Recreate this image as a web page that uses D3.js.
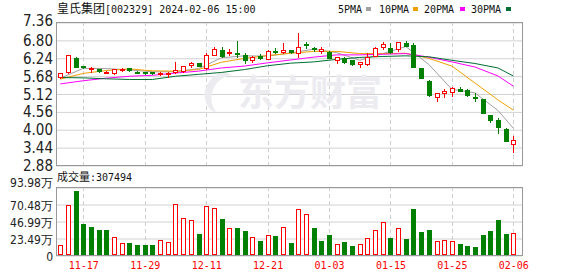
<!DOCTYPE html>
<html>
<head>
<meta charset="utf-8">
<script src="https://cdn.jsdelivr.net/npm/d3@7"></script>
<style>
  body { margin: 0; background: #fff; }
  svg { display: block; }
</style>
</head>
<body>
<div id="chart"></div>
<script>
// trading days shown (2023-11-14 .. 2024-02-06)
const dates = ["11-14","11-15","11-16","11-17","11-20","11-21","11-22","11-23","11-24","11-27",
  "11-28","11-29","11-30","12-01","12-04","12-05","12-06","12-07","12-08","12-11",
  "12-12","12-13","12-14","12-15","12-18","12-19","12-20","12-21","12-22","12-25",
  "12-26","12-27","12-28","12-29","01-02","01-03","01-04","01-05","01-08","01-09",
  "01-10","01-11","01-12","01-15","01-16","01-17","01-18","01-19","01-22","01-23",
  "01-24","01-25","01-26","01-29","01-30","01-31","02-01","02-02","02-05","02-06"];

const opens  = [5.65,5.80,6.24,5.98,5.90,5.89,5.78,5.75,5.87,5.92, 5.80,5.79,5.78,5.72,5.76,5.78,5.83,6.00,6.06,5.91,
  6.33,6.49,6.40,6.38,6.33,6.17,6.30,6.19,6.45,6.43, 6.48,6.38,6.67,6.55,6.45,6.43,6.17,6.22,6.17,6.04,
  6.04,6.30,6.57,6.53,6.50,6.69,6.64,5.91,5.52,5.02, 5.13,5.16,5.26,5.23,5.01,4.95,4.45,4.29,4.00,3.53];
const highs  = [5.77,6.33,6.25,5.99,5.95,5.90,5.84,5.90,5.92,5.93, 5.83,5.80,5.80,5.78,5.79,6.12,5.98,6.11,6.08,6.40,
  6.57,6.57,6.51,6.77,6.38,6.29,6.35,6.47,6.53,6.71, 6.48,7.02,6.74,6.59,6.59,6.45,6.27,6.25,6.17,6.12,
  6.38,6.59,6.74,6.71,6.72,6.77,6.69,5.91,5.54,5.13, 5.26,5.33,5.31,5.26,5.13,4.95,4.45,4.34,4.03,3.79];
const lows   = [5.62,5.75,5.94,5.93,5.80,5.80,5.75,5.74,5.84,5.83, 5.76,5.72,5.72,5.71,5.65,5.75,5.80,5.94,5.98,5.88,
  6.33,6.27,6.33,6.27,6.09,6.12,6.21,6.19,6.40,6.38, 6.38,6.25,6.54,6.46,6.40,6.22,6.09,6.08,6.02,5.94,
  6.01,6.29,6.50,6.38,6.45,6.60,5.94,5.61,5.04,4.89, 5.00,5.04,5.19,5.05,4.88,4.50,4.24,3.89,3.64,3.28];
const closes = [5.75,6.33,5.96,5.95,5.93,5.82,5.80,5.88,5.89,5.85, 5.78,5.77,5.75,5.76,5.77,5.86,5.98,6.08,5.99,6.33,
  6.50,6.28,6.43,6.35,6.17,6.27,6.22,6.45,6.43,6.48, 6.41,6.59,6.64,6.53,6.50,6.24,6.26,6.10,6.03,6.12,
  6.27,6.54,6.67,6.43,6.72,6.61,5.94,5.61,5.07,5.13, 5.20,5.28,5.20,5.07,4.99,4.52,4.29,4.06,3.64,3.66];
const prevClose = 5.60; // close of the day before the first bar

// volume, in 万 shares
const volumes = [13.8,69.1,88.9,42.8,39.2,34.6,34.6,24.4,16.1,16.1, 13.8,13.8,13.8,20.3,17.5,70.1,50.7,48.4,29.0,67.7,
  64.5,49.8,36.9,37.8,33.2,24.4,19.3,27.2,26.3,38.2, 16.1,63.1,56.2,37.3,19.3,27.6,14.7,17.5,12.4,14.7,
  23.1,34.1,46.1,23.1,36.9,22.1,63.6,31.3,34.6,18.9, 20.3,18.9,15.2,12.4,11.1,27.6,33.2,48.4,29.0,30.7494];

// moving averages
const maDates = ["11-14","11-17","11-22","11-27","11-30","12-05","12-08","12-13","12-18","12-21","12-26",
  "12-29","01-04","01-09","01-12","01-17","01-22","01-25","01-30","02-02","02-06"];
const ma5  = [5.60,5.91,5.90,5.86,5.80,5.80,5.90,6.24,6.30,6.29,6.39,6.51,6.40,6.16,6.37,6.59,6.03,5.25,5.14,4.59,4.03];
const ma10 = [5.57,5.75,5.84,5.89,5.83,5.82,5.87,6.10,6.22,6.31,6.38,6.44,6.44,6.37,6.37,6.38,6.22,5.98,5.45,4.92,4.60];
const ma20 = [5.42,5.52,5.60,5.66,5.69,5.76,5.82,5.92,5.98,6.08,6.17,6.26,6.33,6.33,6.35,6.37,6.26,6.11,5.95,5.67,5.35];
const ma30 = [5.62,5.61,5.58,5.56,5.56,5.66,5.72,5.78,5.87,5.99,6.07,6.11,6.19,6.25,6.28,6.30,6.27,6.16,6.06,5.92,5.67];

const priceTicks = [7.36,6.80,6.24,5.68,5.12,4.56,4.00,3.44,2.88];
const volTicks = [0,23.49,46.99,70.48,93.98];
const labelDates = ["11-17","11-29","12-11","12-21","01-03","01-15","01-25","02-06"];

const maSeries = [
  { name: "5PMA", values: ma5, color: "#a0a0a0" },
  { name: "10PMA", values: ma10, color: "#f0a000" },
  { name: "20PMA", values: ma20, color: "#ff00ff" },
  { name: "30PMA", values: ma30, color: "#006e32" }
];

const width = 578, height = 276;
const box = { left: 56, right: 522, pTop: 22, pBot: 165, vTop: 187, vBot: 255 };
const UP = "#ff0000", DOWN = "#008000";
const numFont = "'Liberation Sans Narrow','DejaVu Sans Condensed','Liberation Sans',sans-serif";
const monoFont = "'DejaVu Sans Mono',monospace";
const cjkFont = "'Noto Sans CJK SC',sans-serif";

const svg = d3.select("#chart").append("svg")
  .attr("width", width)
  .attr("height", height);

const x = d3.scalePoint().domain(dates).range([60.3, 513.3]);
const yP = d3.scaleLinear().domain([2.88, 7.36]).range([box.pBot, box.pTop]);
const yV = d3.scaleLinear().domain([0, 93.98]).range([box.vBot, box.vTop]);

// horizontal grids + left labels
function styleAxis(g) {
  g.select(".domain").remove();
  g.selectAll(".tick line").attr("stroke", "#d2d2d2");
  g.selectAll(".tick text").attr("fill", "#222").attr("font-family", numFont);
}

const yAxisP = svg.append("g")
  .attr("transform", `translate(${box.left},0.5)`)
  .call(d3.axisLeft(yP).tickValues(priceTicks).tickSize(-(box.right - box.left))
    .tickPadding(3).tickFormat(d3.format(".2f")))
  .call(styleAxis);
yAxisP.selectAll(".tick text").attr("font-size", 15)
  .attr("dy", d => d === 7.36 ? "0.2em" : "0.34em");

const yAxisV = svg.append("g")
  .attr("transform", `translate(${box.left},0.5)`)
  .call(d3.axisLeft(yV).tickValues(volTicks).tickSize(-(box.right - box.left))
    .tickPadding(3).tickFormat(d => d === 0 ? "0" : d3.format(".2f")(d) + "万"))
  .call(styleAxis);
yAxisV.selectAll(".tick text").attr("font-size", 12)
  .attr("dy", d => d === 93.98 ? "-0.05em" : "0.4em");

// vertical dashed grid
const vgrid = svg.append("g").attr("stroke", "#cfcfcf").attr("stroke-dasharray", "4,3");
labelDates.forEach(d => {
  const gx = Math.round(x(d)) + 0.5;
  vgrid.append("line").attr("x1", gx).attr("x2", gx).attr("y1", box.pTop).attr("y2", box.pBot);
  vgrid.append("line").attr("x1", gx).attr("x2", gx).attr("y1", box.vTop).attr("y2", box.vBot);
});

// watermark
const wm = svg.append("g").attr("fill", "#ececf0");
wm.append("path")
  .attr("transform", "translate(200,72)")
  .attr("d", "M22,0 C8,6 2,18 6,30 C8,36 12,40 16,40 C10,32 10,20 16,12 C20,7 26,4 32,3 C28,1 25,0 22,0 Z");
wm.append("text")
  .attr("x", 238).attr("y", 106)
  .attr("font-family", cjkFont).attr("font-weight", "bold").attr("font-size", 36)
  .text("东方财富");

// panel frames
svg.append("rect").attr("x", box.left + 0.5).attr("y", box.pTop + 0.5)
  .attr("width", box.right - box.left).attr("height", box.pBot - box.pTop)
  .attr("fill", "none").attr("stroke", "#999");
svg.append("rect").attr("x", box.left + 0.5).attr("y", box.vTop + 0.5)
  .attr("width", box.right - box.left).attr("height", box.vBot - box.vTop)
  .attr("fill", "none").attr("stroke", "#999");

// x labels
svg.append("g").selectAll("text")
  .data(labelDates)
  .join("text")
  .attr("x", d => x(d) + 0.5)
  .attr("y", 269)
  .attr("text-anchor", "middle")
  .attr("fill", UP)
  .attr("font-family", monoFont)
  .attr("font-size", 10)
  .text(d => d);

// MA lines
const line = d3.line().x(d => x(d[0])).y(d => yP(d[1]));
svg.append("g").selectAll("path")
  .data(maSeries)
  .join("path")
  .attr("fill", "none")
  .attr("stroke", d => d.color)
  .attr("stroke-width", 1)
  .attr("d", d => line(maDates.map((m, i) => [m, d.values[i]])));

// candles + volume
const bars = dates.map((d, i) => ({
  d, o: opens[i], h: highs[i], l: lows[i], c: closes[i], v: volumes[i],
  pc: i ? closes[i - 1] : prevClose
}));

const cg = svg.append("g");
bars.forEach(b => {
  const cx = Math.round(x(b.d));
  const yh = Math.round(yP(b.h)), yl = Math.round(yP(b.l));
  if (b.c >= b.o) {
    const top = Math.round(yP(b.c)), bot = Math.max(Math.round(yP(b.o)), top + 1);
    cg.append("line").attr("x1", cx + 0.5).attr("x2", cx + 0.5).attr("y1", yh).attr("y2", top).attr("stroke", UP);
    cg.append("line").attr("x1", cx + 0.5).attr("x2", cx + 0.5).attr("y1", bot + 1).attr("y2", yl + 1).attr("stroke", UP);
    cg.append("rect").attr("x", cx - 1.5).attr("y", top + 0.5).attr("width", 4).attr("height", bot - top)
      .attr("fill", "#fff").attr("stroke", UP);
  } else {
    const top = Math.round(yP(b.o)), bot = Math.max(Math.round(yP(b.c)), top + 1);
    cg.append("line").attr("x1", cx + 0.5).attr("x2", cx + 0.5).attr("y1", yh).attr("y2", yl + 1).attr("stroke", DOWN);
    cg.append("rect").attr("x", cx - 2).attr("y", top).attr("width", 5).attr("height", bot - top + 1)
      .attr("fill", DOWN);
  }
  const vt = Math.round(yV(b.v));
  if (b.c >= b.pc) {
    cg.append("rect").attr("x", cx - 1.5).attr("y", vt + 0.5).attr("width", 4).attr("height", box.vBot - vt - 1)
      .attr("fill", "#fff").attr("stroke", UP);
  } else {
    cg.append("rect").attr("x", cx - 2).attr("y", vt).attr("width", 5).attr("height", box.vBot - vt)
      .attr("fill", DOWN);
  }
});

// title
const title = svg.append("text").attr("x", 57).attr("y", 13).attr("fill", "#111");
title.append("tspan").attr("font-family", cjkFont).attr("font-size", 12).text("皇氏集团");
title.append("tspan").attr("font-family", monoFont).attr("font-size", 10).attr("xml:space", "preserve")
  .text("[002329] 2024-02-06 15:00");

// volume caption
const cap = svg.append("text").attr("x", 57).attr("y", 181).attr("fill", "#111");
cap.append("tspan").attr("font-family", cjkFont).attr("font-size", 11).text("成交量");
cap.append("tspan").attr("font-family", monoFont).attr("font-size", 10).text(":" + Math.round(volumes[59] * 10000));

// legend
const legX = [338, 379, 424, 471], legSq = [366, 413, 460, 506];
const leg = svg.append("g");
maSeries.forEach((s, i) => {
  leg.append("text").attr("x", legX[i]).attr("y", 13)
    .attr("font-family", monoFont).attr("font-size", 10).attr("fill", "#111").text(s.name);
  leg.append("rect").attr("x", legSq[i]).attr("y", 7).attr("width", 5).attr("height", 4).attr("fill", s.color);
});
</script>
</body>
</html>
